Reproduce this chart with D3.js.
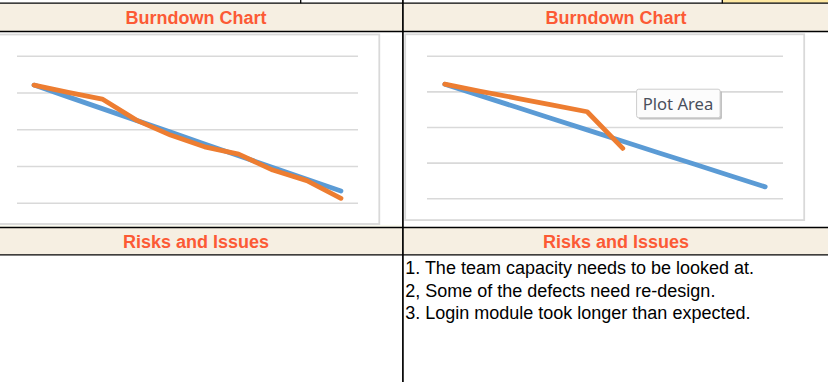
<!DOCTYPE html>
<html><head><meta charset="utf-8">
<script src="https://cdn.jsdelivr.net/npm/d3@7"></script>
<style>html,body{margin:0;padding:0;background:#fff;overflow:hidden}</style>
</head><body>
<svg id="c" width="828" height="382"></svg>
<script>
// ---- data ----
const days = ["Day 1","Day 2","Day 3","Day 4","Day 5","Day 6","Day 7","Day 8","Day 9","Day 10"];
const idealLeft = [80,72,64,56,48,40,32,24,16,8];
const actualLeft = [80,75,70.5,56.2,46,38,33,22.2,15,3];
const idealRight = [80,72,64,56,48,40,32,24,16,8];
const actualRight = [80,75,70.3,65.5,60.7,35];
const yTicks = [0,25,50,75,100];
const sectionTitles = ["Burndown Chart","Risks and Issues"];
const issues = ["1. The team capacity needs to be looked at.","2, Some of the defects need re-design.","3. Login module took longer than expected."];

const svg = d3.select("#c");
const headerBg = "#F6EFE2", titleColor = "#FC5A35";
const BLUE = "#5B9BD5", ORANGE = "#ED7D31", GRID = "#D9D9D9";

// top partial row
svg.append("rect").attr("x",723).attr("y",0).attr("width",105).attr("height",2.8).attr("fill","#FFE9A3");
// header rows
svg.append("rect").attr("x",0).attr("y",3.6).attr("width",828).attr("height",27.6).attr("fill",headerBg);
svg.append("rect").attr("x",0).attr("y",228).attr("width",828).attr("height",26.6).attr("fill",headerBg);
svg.append("rect").attr("x",0).attr("y",224.8).attr("width",402).attr("height",2.4).attr("fill","#FBFBF0");

// grid lines of the sheet
const hl = [3.2, 31.5, 227.5, 254.8];
svg.selectAll("line.h").data(hl).join("line").attr("class","h")
  .attr("x1",0).attr("x2",828).attr("y1",d=>d).attr("y2",d=>d)
  .attr("stroke","#000").attr("stroke-width",1.3);
svg.append("line").attr("x1",402.9).attr("x2",402.9).attr("y1",0).attr("y2",382).attr("stroke","#000").attr("stroke-width",1.7);
[300.7,722.3].forEach(x=>svg.append("line").attr("x1",x).attr("x2",x).attr("y1",0).attr("y2",3.2).attr("stroke","#000").attr("stroke-width",1.3));

// section titles
const titleRows = [{t:sectionTitles[0],y:24},{t:sectionTitles[1],y:247.6}];
[196,616].forEach(cx=>{
  titleRows.forEach(r=>{
    svg.append("text").attr("x",cx).attr("y",r.y).attr("text-anchor","middle")
      .attr("font-family","Liberation Sans, Arial, sans-serif").attr("font-weight","bold")
      .attr("font-size",18).attr("fill",titleColor).text(r.t);
  });
});

// charts
function chart(box, xr, yr, ideal, actual){
  svg.append("rect").attr("x",box.x).attr("y",box.y).attr("width",box.w).attr("height",box.h)
    .attr("fill","#fff").attr("stroke",GRID).attr("stroke-width",1.8);
  const x = d3.scalePoint().domain(days).range(xr).padding(0.5);
  const y = d3.scaleLinear().domain([0,100]).range(yr);
  const g = svg.append("g");
  const ax = d3.axisLeft(y).tickValues(yTicks).tickSize(-(xr[1]-xr[0])).tickFormat("");
  const ga = g.append("g").attr("transform",`translate(${xr[0]},0)`).call(ax);
  ga.select(".domain").remove();
  ga.selectAll(".tick line").attr("stroke",GRID).attr("stroke-width",1.6);
  const line = d3.line().x((d,i)=>x(days[i])).y(d=>y(d));
  g.append("path").datum(ideal).attr("d",line).attr("fill","none").attr("stroke",BLUE)
    .attr("stroke-width",4.8).attr("stroke-linecap","round").attr("stroke-linejoin","round");
  g.append("path").datum(actual).attr("d",line).attr("fill","none").attr("stroke",ORANGE)
    .attr("stroke-width",4.8).attr("stroke-linecap","round").attr("stroke-linejoin","round");
}
chart({x:-5,y:34.5,w:384.3,h:189.5},[17,358],[202.7,55.7],idealLeft,actualLeft);
chart({x:405.2,y:34.3,w:399,h:185.8},[427,783],[198.3,55.7],idealRight,actualRight);

// Plot Area tooltip
const tip = svg.append("g");
tip.append("rect").attr("x",638.5).attr("y",91).attr("width",83.5).attr("height",28.5).attr("rx",2).attr("fill","#A8A8A8").attr("opacity",0.7);
tip.append("rect").attr("x",636.6).attr("y",89.2).attr("width",83.5).attr("height",28.5).attr("rx",2)
  .attr("fill","#FCFCFC").attr("stroke","#CDCDCD").attr("stroke-width",1);
tip.append("text").attr("x",642.7).attr("y",109.5).attr("font-family","Noto Sans, Open Sans, sans-serif")
  .attr("font-size",17).attr("fill","#4A505C").attr("textLength",70.6).attr("lengthAdjust","spacingAndGlyphs").text("Plot Area");

// issues
svg.selectAll("text.issue").data(issues).join("text").attr("class","issue")
  .attr("x",405.2).attr("y",(d,i)=>[273.6,296.6,319.4][i])
  .attr("font-family","Liberation Sans, Arial, sans-serif").attr("font-size",18).attr("fill","#000").text(d=>d);
</script>
</body></html>
